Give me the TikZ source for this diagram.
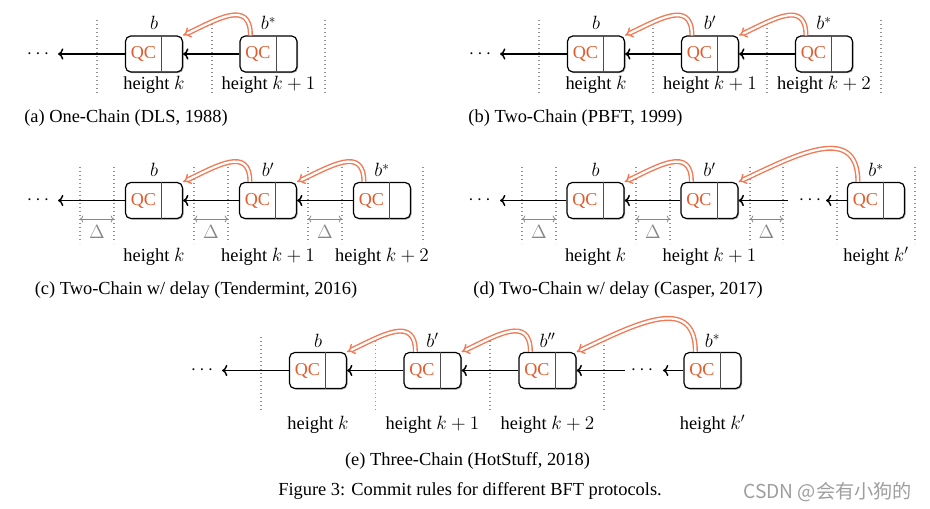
\documentclass[tikz,border=0pt]{standalone}
\usepackage{fontspec}
\setmainfont{Liberation Serif}
\newfontfamily\cjkwm{Noto Sans CJK SC}
\usetikzlibrary{arrows.meta,shadows}
\definecolor{qcorange}{RGB}{226,92,45}
\definecolor{arrorange}{RGB}{240,122,85}
\definecolor{sepgray}{RGB}{145,145,145}
\definecolor{dltgray}{RGB}{135,135,135}
\tikzset{
  blk/.style={draw=black, line width=0.9pt, rounded corners=4pt, minimum width=42.75pt,
    minimum height=27pt, inner sep=0pt, fill=white,
    drop shadow={shadow xshift=0.8pt, shadow yshift=-0.8pt, opacity=0.35, fill=black}},
  divider/.style={draw=black!70, line width=0.75pt},
  qc/.style={text=qcorange, inner sep=0pt, font=\fontsize{13.6}{16}\selectfont},
  chain/.style={->, line width=1.1pt},
  commit/.style={draw=arrorange, double=white, double distance=1.7pt, line width=1.05pt, -{Implies}},
  sep/.style={draw=sepgray, line width=0.9pt, dash pattern=on 0.9pt off 2.1pt},
  dlt/.style={{To[length=2.5pt]}-{To[length=2.5pt]}, draw=dltgray, line width=0.6pt},
  dltlbl/.style={text=dltgray, inner sep=0pt},
  lbl/.style={anchor=base, inner sep=0pt},
  dotsn/.style={inner sep=0pt},
}
\newcommand\blkat[3]{%
  \node[blk] (#1) at (#2,#3) {};
  \draw[divider] ([shift={(37,0)}]#1.north west) -- ([shift={(37,0)}]#1.south west);
  \node[qc] (#1q) at ([shift={(18.5,0)}]#1.west) {QC};
}
\begin{document}
\begin{tikzpicture}[x=0.75pt,y=-0.75pt,font=\fontsize{13.8}{16}\selectfont]
\useasboundingbox (0,0) rectangle (930,509);

% ---------------- (a)
\foreach \x in {97,212,325} \draw[sep] (\x,20) -- (\x,95);
\blkat{a1}{154}{54}
\blkat{a2}{268.5}{54}
\node[dotsn] (adots) at (38,54) {$\cdots$};
\coordinate (aend) at (58,54);
\draw[chain] (a1.west) -- (aend);
\draw[chain] (a2.west) -- (a1.east);
\draw[commit] ([shift={(11,0)}]a2.north west) to[out=90,in=25,looseness=1.4] (a1.north east);
\node[lbl] (alb1) at (154,30) {$b$};
\node[lbl] (alb2) at (268.5,30) {$b^*$};
\node[lbl] (ah1) at (154,89.5) {height $k$};
\node[lbl] (ah2) at (268.5,89.5) {height $k+1$};
\node[lbl] (acap) at (126,123) {(a) One-Chain (DLS, 1988)};

% ---------------- (b)
\foreach \x in {539,653,767,881} \draw[sep] (\x,20) -- (\x,95);
\blkat{b1}{596}{54}
\blkat{b2}{710}{54}
\blkat{b3}{824}{54}
\node[dotsn] (bdots) at (480,54) {$\cdots$};
\coordinate (bend) at (500,54);
\draw[chain] (b1.west) -- (bend);
\draw[chain] (b2.west) -- (b1.east);
\draw[chain] (b3.west) -- (b2.east);
\draw[commit] ([shift={(11,0)}]b2.north west) to[out=90,in=25,looseness=1.4] (b1.north east);
\draw[commit] ([shift={(11,0)}]b3.north west) to[out=90,in=25,looseness=1.4] (b2.north east);
\node[lbl] (blb1) at (596,30) {$b$};
\node[lbl] (blb2) at (710,30) {$b'$};
\node[lbl] (blb3) at (824,30) {$b^*$};
\node[lbl] (bh1) at (596,89.5) {height $k$};
\node[lbl] (bh2) at (710,89.5) {height $k+1$};
\node[lbl] (bh3) at (824,89.5) {height $k+2$};
\node[lbl] (bcap) at (575.5,123) {(b) Two-Chain (PBFT, 1999)};

% ---------------- (c)
\foreach \x in {80,114,194,228,308,342,423} \draw[sep] (\x,167) -- (\x,243);
\foreach \l/\r [count=\i] in {80/114,194/228,308/342} {
  \draw[dlt] (\l,219) -- (\r,219);
  \node[dltlbl] (cd\i) at ({(\l+\r)/2},232) {$\Delta$};
}
\blkat{c1}{154}{200.5}
\blkat{c2}{268}{200.5}
\blkat{c3}{382}{200.5}
\node[dotsn] (cdots) at (38,200.5) {$\cdots$};
\coordinate (cend) at (58,200.5);
\draw[chain] (c1.west) -- (cend);
\draw[chain] (c2.west) -- (c1.east);
\draw[chain] (c3.west) -- (c2.east);
\draw[commit] ([shift={(11,0)}]c2.north west) to[out=90,in=25,looseness=1.4] (c1.north east);
\draw[commit] ([shift={(11,0)}]c3.north west) to[out=90,in=25,looseness=1.4] (c2.north east);
\node[lbl] (clb1) at (154,177) {$b$};
\node[lbl] (clb2) at (268,177) {$b'$};
\node[lbl] (clb3) at (382,177) {$b^*$};
\node[lbl] (ch1) at (154,261.5) {height $k$};
\node[lbl] (ch2) at (268,261.5) {height $k+1$};
\node[lbl] (ch3) at (382,261.5) {height $k+2$};
\node[lbl] (ccap) at (196,295) {(c) Two-Chain w/ delay (Tendermint, 2016)};

% ---------------- (d)
\foreach \x in {522,556,636,670,750,783,837,915} \draw[sep] (\x,167) -- (\x,243);
\foreach \l/\r [count=\i] in {522/556,636/670,750/783} {
  \draw[dlt] (\l,219) -- (\r,219);
  \node[dltlbl] (dd\i) at ({(\l+\r)/2},232) {$\Delta$};
}
\blkat{d1}{595.5}{200.5}
\blkat{d2}{709.5}{200.5}
\blkat{d3}{876}{200.5}
\node[dotsn] (ddots) at (479.5,200.5) {$\cdots$};
\coordinate (dend) at (500,200.5);
\node[dotsn] (ddots2) at (810,200.5) {$\cdots$};
\coordinate (dstart) at (788,200.5);
\coordinate (dend2) at (826,200.5);
\draw[chain] (d1.west) -- (dend);
\draw[chain] (d2.west) -- (d1.east);
\draw[chain] (dstart) -- (d2.east);
\draw[chain] (d3.west) -- (dend2);
\draw[commit] ([shift={(11,0)}]d2.north west) to[out=90,in=25,looseness=1.4] (d1.north east);
\draw[commit] ([shift={(11,0)}]d3.north west) to[out=90,in=25,looseness=1.3] (d2.north east);
\node[lbl] (dlb1) at (595.5,177) {$b$};
\node[lbl] (dlb2) at (709.5,177) {$b'$};
\node[lbl] (dlb3) at (876,177) {$b^*$};
\node[lbl] (dh1) at (595.5,261.5) {height $k$};
\node[lbl] (dh2) at (709.5,261.5) {height $k+1$};
\node[lbl] (dh3) at (876,261.5) {height $k'$};
\node[lbl] (dcap) at (618,295) {(d) Two-Chain w/ delay (Casper, 2017)};

% ---------------- (e)
\foreach \x in {261,375.5,490,604} \draw[sep] (\x,337) -- (\x,412);
\blkat{e1}{318}{370.5}
\blkat{e2}{432.5}{370.5}
\blkat{e3}{547.5}{370.5}
\blkat{e4}{712.5}{370.5}
\node[dotsn] (edots) at (202,370.5) {$\cdots$};
\coordinate (eend) at (222,370.5);
\node[dotsn] (edots2) at (642,370.5) {$\cdots$};
\coordinate (estart) at (625,370.5);
\coordinate (eend2) at (663,370.5);
\draw[chain] (e1.west) -- (eend);
\draw[chain] (e2.west) -- (e1.east);
\draw[chain] (e3.west) -- (e2.east);
\draw[chain] (estart) -- (e3.east);
\draw[chain] (e4.west) -- (eend2);
\draw[commit] ([shift={(12,0)}]e2.north west) to[out=90,in=25,looseness=1.4] (e1.north east);
\draw[commit] ([shift={(12,0)}]e3.north west) to[out=90,in=25,looseness=1.4] (e2.north east);
\draw[commit] ([shift={(12,0)}]e4.north west) to[out=90,in=25,looseness=1.3] (e3.north east);
\node[lbl] (elb1) at (318,347.5) {$b$};
\node[lbl] (elb2) at (432.5,347.5) {$b'$};
\node[lbl] (elb3) at (547.5,347.5) {$b''$};
\node[lbl] (elb4) at (712.5,347.5) {$b^*$};
\node[lbl] (eh1) at (318,429.5) {height $k$};
\node[lbl] (eh2) at (432.5,429.5) {height $k+1$};
\node[lbl] (eh3) at (547.5,429.5) {height $k+2$};
\node[lbl] (eh4) at (712.5,429.5) {height $k'$};
\node[lbl] (ecap) at (467.5,465) {(e) Three-Chain (HotStuff, 2018)};
\node[lbl] (figcap) at (470,495) {Figure 3: Commit rules for different BFT protocols.};

% watermark
\node[anchor=west, inner sep=0pt, text=black!38, font=\cjkwm\fontsize{14.4}{16}\selectfont] (wm) at (743,492) {CSDN @会有小狗的};
\end{tikzpicture}
\end{document}
